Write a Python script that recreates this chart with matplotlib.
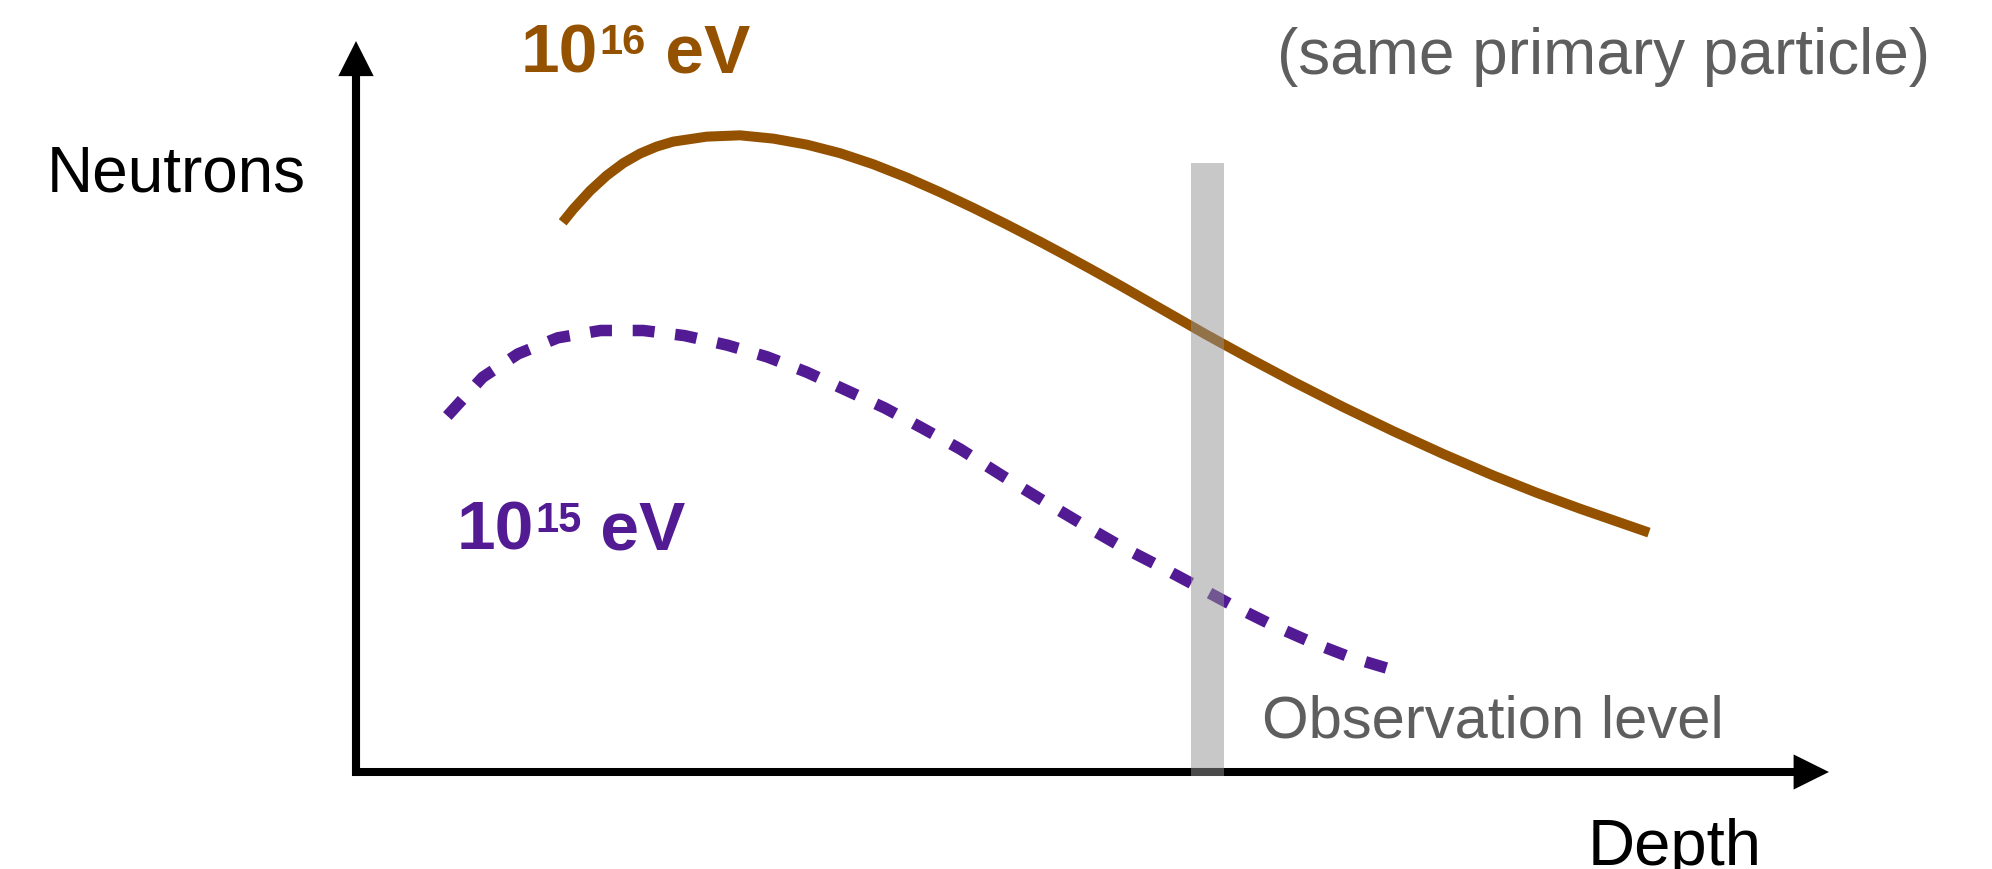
#!/usr/bin/env python
# -*- coding: utf-8 -*-

"""
不同初级能量下中子数随深度变化的示意图
"""

import matplotlib
matplotlib.use("Agg")
import matplotlib.pyplot as plt

# 10^16 eV 曲线 (深度, 中子数), 任意单位
depth_16 = [14.03, 14.75, 15.89, 17.02, 18.15, 19.28, 20.41, 21.54, 23.81,
            26.07, 28.33, 30.60, 32.86, 35.12, 37.39, 39.65, 41.91, 44.17,
            46.44, 47.79, 49.83, 51.87, 54.81, 57.75, 60.69, 63.63, 67.03,
            70.42, 73.82, 77.21, 80.16, 83.10, 87.78]
neutrons_16 = [75.20, 77.00, 79.51, 81.60, 83.30, 84.60, 85.56, 86.24, 86.92,
               87.10, 86.65, 85.83, 84.66, 83.14, 81.33, 79.32, 77.17, 74.91,
               72.55, 71.10, 68.86, 66.57, 63.19, 59.80, 56.55, 53.40, 49.92,
               46.63, 43.50, 40.56, 38.20, 36.02, 32.75]

# 10^15 eV 曲线
depth_15 = [6.2, 8.6, 11.0, 13.7, 16.6, 19.5, 22.3, 25.2, 27.9, 30.6,
            33.2, 35.9, 38.4, 41.0, 43.9, 46.9, 49.4, 51.9, 54.5, 57.1,
            59.5, 62.1, 64.8, 67.5, 70.0]
neutrons_15 = [48.7, 54.0, 57.2, 59.4, 60.4, 60.4, 59.7, 58.4, 56.8, 54.7,
               52.3, 49.8, 47.1, 44.2, 40.5, 36.8, 33.8, 30.9, 28.2, 25.4,
               22.8, 20.2, 17.8, 15.7, 14.2]

# 观测深度
obs_level = 57.8
obs_top = 83.3

# 文字
y_label = "Neutrons"
x_label = "Depth"
obs_label = "Observation level"
note_label = "(same primary particle)"
energy_labels = ["16", "15"]

BROWN = "#945200"
PURPLE = "#531B93"
GRAY_TEXT = "#5E5E5E"

plt.rcParams["font.family"] = ["Liberation Sans", "DejaVu Sans"]


def energy_label(ax, x, y, exponent, color):
    """画 10^n eV 标签"""
    base = ax.text(x, y, "10", fontsize=50, fontweight="bold", color=color,
                   va="baseline", ha="left", zorder=6)
    sup = ax.annotate(exponent, xy=(1, 1), xycoords=base, xytext=(1, -1),
                      textcoords="offset points", fontsize=30,
                      fontweight="bold", color=color, va="top", ha="left",
                      zorder=6)
    ax.annotate(" eV", xy=(1, 0), xycoords=(sup, base), fontsize=50,
                fontweight="bold", color=color, va="bottom", ha="left",
                zorder=6)


def main():
    fig = plt.figure(figsize=(19.92, 8.7), dpi=100)
    ax = fig.add_axes([0, 0, 1, 1])
    ax.set_xlim(-24.17, 111.07)
    ax.set_ylim(-13.27, 105.75)
    ax.axis("off")

    # 坐标轴箭头
    ax.arrow(-0.27, 0, 100.27, 0, width=1.1, head_width=4.8,
             head_length=2.4, length_includes_head=True, color="black",
             lw=0, zorder=2)
    ax.arrow(0, -0.55, 0, 100.55, width=0.55, head_width=2.4,
             head_length=4.8, length_includes_head=True, color="black",
             lw=0, zorder=2)

    # 曲线
    ax.plot(depth_16, neutrons_16, color=BROWN, lw=7.2,
            solid_capstyle="butt", solid_joinstyle="round", zorder=3)
    ax.plot(depth_15, neutrons_15, color=PURPLE, lw=8.3,
            dashes=(1.9, 1.8), dash_capstyle="butt", zorder=3)

    # 观测深度灰带
    ax.bar(obs_level, obs_top + 0.55, width=2.25, bottom=-0.55,
           color="#929292", alpha=0.5, lw=0, zorder=5)

    # 文字
    ax.text(-21.0, 79.5, y_label, fontsize=46, color="black",
            va="baseline", ha="left")
    ax.text(83.6, -12.6, x_label, fontsize=47, color="black",
            va="baseline", ha="left")
    ax.text(61.5, 4.8, obs_label, fontsize=43, color=GRAY_TEXT,
            va="baseline", ha="left")
    ax.text(106.9, 95.6, note_label, fontsize=46, color=GRAY_TEXT,
            va="baseline", ha="right")

    energy_label(ax, 11.2, 95.9, energy_labels[0], BROWN)
    energy_label(ax, 6.8, 30.6, energy_labels[1], PURPLE)

    fig.savefig("out.png", dpi=100)


if __name__ == "__main__":
    main()
